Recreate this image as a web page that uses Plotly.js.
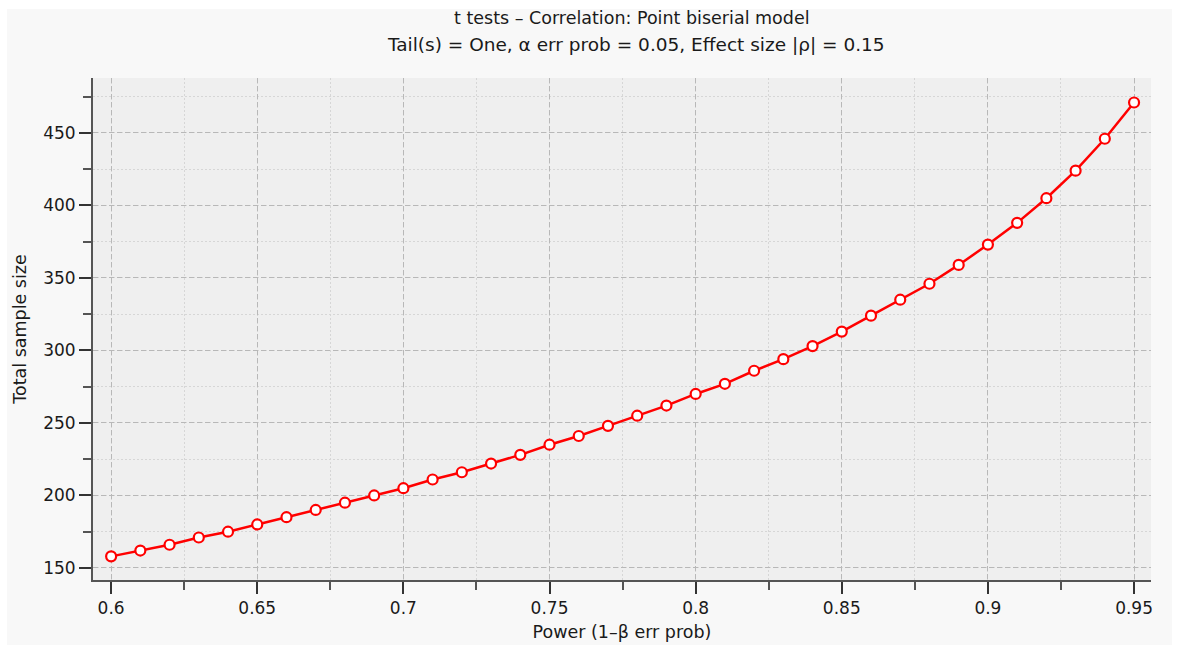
<!DOCTYPE html>
<html>
<head>
<meta charset="utf-8">
<script src="https://cdn.plot.ly/plotly-3.0.1.min.js"></script>
<style>
html,body{margin:0;padding:0;background:#ffffff;}
#chart{position:absolute;left:7px;top:9px;width:1165px;height:636px;}
</style>
</head>
<body>
<div id="chart"></div>
<script>
const power = [0.60,0.61,0.62,0.63,0.64,0.65,0.66,0.67,0.68,0.69,0.70,0.71,0.72,0.73,0.74,0.75,0.76,0.77,0.78,0.79,0.80,0.81,0.82,0.83,0.84,0.85,0.86,0.87,0.88,0.89,0.90,0.91,0.92,0.93,0.94,0.95];
const sampleSize = [158,162,166,171,175,180,185,190,195,200,205,211,216,222,228,235,241,248,255,262,270,277,286,294,303,313,324,335,346,359,373,388,405,424,446,471];
const xTicks = [0.6,0.65,0.7,0.75,0.8,0.85,0.9,0.95];
const xTickText = ['0.6','0.65','0.7','0.75','0.8','0.85','0.9','0.95'];
const yTicks = [150,200,250,300,350,400,450];
const titleLine1 = 't tests \u2013 Correlation: Point biserial model';
const titleLine2 = 'Tail(s) = One, \u03b1 err prob = 0.05, Effect size |\u03c1| = 0.15';

const font = 'DejaVu Sans, Verdana, sans-serif';
const tc = '#1a1a1a';
const trace = {
  x: power, y: sampleSize, type: 'scatter', mode: 'lines+markers',
  line: {color: '#ff0000', width: 2.5},
  marker: {symbol: 'circle', size: 10, color: '#ffffff', line: {color: '#ff0000', width: 2.2}},
  hoverinfo: 'x+y'
};
const layout = {
  width: 1165, height: 636,
  paper_bgcolor: '#f8f8f8', plot_bgcolor: '#efefef',
  margin: {l: 86, r: 21, t: 69, b: 65},
  showlegend: false,
  font: {family: font, size: 17, color: tc},
  annotations: [
    {text: titleLine1, xref: 'paper', yref: 'paper', x: 0.5, y: 1, xshift: 10, yshift: 60, xanchor: 'center', yanchor: 'middle', showarrow: false, font: {family: font, size: 17.5, color: tc}},
    {text: titleLine2, xref: 'paper', yref: 'paper', x: 0.5, y: 1, xshift: 14, yshift: 34, xanchor: 'center', yanchor: 'middle', showarrow: false, font: {family: font, size: 18.5, color: tc}}
  ],
  xaxis: {
    range: [0.5938, 0.9558], tickvals: xTicks, ticktext: xTickText,
    showline: true, linecolor: '#555555', linewidth: 2, mirror: false,
    ticks: 'outside', ticklen: 12, tickwidth: 2, tickcolor: '#333333',
    showgrid: true, gridcolor: '#b8b8b8', griddash: '5px,3px', gridwidth: 1,
    zeroline: false, tickfont: {family: font, size: 17, color: tc},
    minor: {dtick: 0.025, tick0: 0.6, ticks: 'outside', ticklen: 8, tickwidth: 2, tickcolor: '#555555', showgrid: true, gridcolor: '#d6d6d6', griddash: '2px,2px', gridwidth: 1},
    title: {text: 'Power (1\u2013\u03b2 err prob)', standoff: 8, font: {family: font, size: 17.5, color: tc}}
  },
  yaxis: {
    range: [141.7, 487.9], tickvals: yTicks,
    showline: true, linecolor: '#555555', linewidth: 2,
    ticks: 'outside', ticklen: 12, tickwidth: 2, tickcolor: '#333333',
    showgrid: true, gridcolor: '#b8b8b8', griddash: '5px,3px', gridwidth: 1,
    zeroline: false, tickfont: {family: font, size: 17, color: tc},
    minor: {dtick: 25, tick0: 150, ticks: 'outside', ticklen: 8, tickwidth: 2, tickcolor: '#555555', showgrid: true, gridcolor: '#d6d6d6', griddash: '2px,2px', gridwidth: 1},
    title: {text: 'Total sample size', standoff: 12, font: {family: font, size: 17.5, color: tc}}
  }
};
Plotly.newPlot('chart', [trace], layout, {displayModeBar: false, staticPlot: true});
</script>
</body>
</html>
